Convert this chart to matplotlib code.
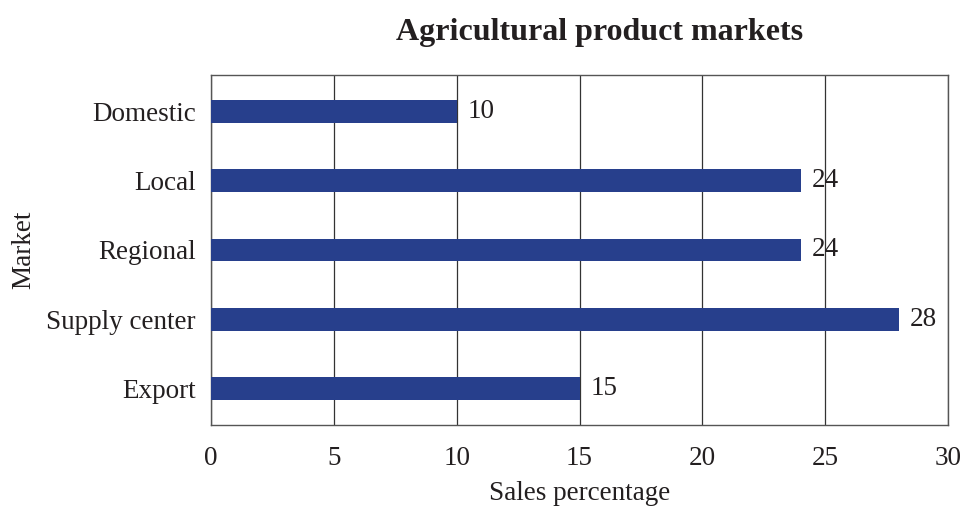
import matplotlib.pyplot as plt

markets = ["Domestic", "Local", "Regional", "Supply center", "Export"]
shares = [10, 24, 24, 28, 15]
x_ticks = [0, 5, 10, 15, 20, 25, 30]

plt.rcParams["font.family"] = ["Liberation Serif", "DejaVu Serif"]
ink = "#231F20"

fig = plt.figure(figsize=(9.64, 5.08), dpi=100)
ax = fig.add_axes([0.2189, 0.1634, 0.7645, 0.689])

pos = list(range(len(markets)))
ax.barh(pos, shares, height=0.33, color="#273F8C", zorder=3)

for y, v in zip(pos, shares):
    ax.annotate(str(v), (v, y), xytext=(8, 0), textcoords="offset points",
                va="center", ha="left", fontsize=19.5, color=ink, zorder=4)

ax.set_xlim(0, 30)
ax.set_ylim(4.53, -0.53)
ax.set_xticks(x_ticks)
ax.set_yticks(pos)
ax.set_yticklabels(markets)
ax.tick_params(axis="both", length=0, labelsize=19.5, colors=ink)
ax.tick_params(axis="x", pad=15)
ax.tick_params(axis="y", pad=11)

ax.grid(axis="x", color="#333333", linewidth=0.9, zorder=0)
for s in ax.spines.values():
    s.set_color("#555555")
    s.set_linewidth(1.0)

ax.set_xlabel("Sales percentage", fontsize=19.5, color=ink, labelpad=7.5)
ax.set_ylabel("Market", fontsize=19.5, color=ink, labelpad=7)
fig.text(0.622, 0.937, "Agricultural product markets", ha="center", va="center",
         fontsize=23, fontweight="bold", color=ink)

fig.savefig("out.png", dpi=100)
